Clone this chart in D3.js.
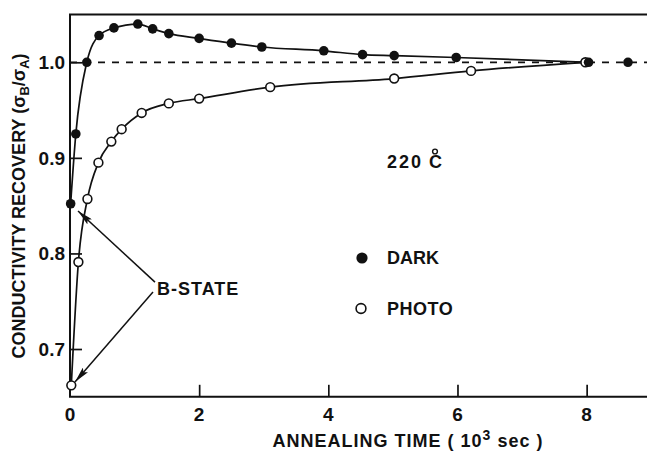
<!DOCTYPE html>
<html><head><meta charset="utf-8">
<script src="https://cdn.jsdelivr.net/npm/d3@7"></script>
<style>
html,body{margin:0;padding:0;background:#fff;}
svg{display:block;}
text{font-family:"Liberation Sans",Arial,sans-serif;font-weight:bold;fill:#111;}
</style></head>
<body>
<svg id="chart" width="647" height="452"></svg>
<script>
// ---- data (time in 10^3 sec, recovery sigma_B/sigma_A) ----
const darkTime  = [0.01, 0.09, 0.26, 0.45, 0.68, 1.05, 1.28, 1.53, 2.0, 2.5, 2.97, 3.93, 4.53, 5.02, 5.98, 8.03, 8.64];
const darkValue = [0.852, 0.925, 1.0, 1.028, 1.036, 1.040, 1.035, 1.030, 1.025, 1.020, 1.016, 1.012, 1.008, 1.007, 1.005, 1.0, 1.0];
const photoTime  = [0.02, 0.13, 0.27, 0.44, 0.64, 0.80, 1.11, 1.53, 2.0, 3.10, 5.02, 6.21, 7.98];
const photoValue = [0.662, 0.791, 0.857, 0.895, 0.917, 0.930, 0.947, 0.957, 0.962, 0.974, 0.983, 0.991, 1.0];
const xTicks = [0, 2, 4, 6, 8];
const yTicks = [0.7, 0.8, 0.9, 1.0];
const referenceLevel = 1.0;
const seriesNames = ["DARK", "PHOTO"];
const tempLabel = "220";

const svg = d3.select("#chart");
const x = d3.scaleLinear().domain([0, 9]).range([70, 70 + 9 * 64.58]);
const y = d3.scaleLinear().domain([0.65, 1.05]).range([396.8, 14.5]);

const ink = "#111";

// frame (top + left + bottom)
svg.append("path")
  .attr("d", `M${x(9)+5},${y(1.05)} L${x(0)},${y(1.05)} L${x(0)},${y(0.65)} L${x(9)+5},${y(0.65)}`)
  .attr("fill", "none").attr("stroke", ink).attr("stroke-width", 2);

// x axis ticks (inward)
const xAxis = d3.axisTop(x).tickValues(xTicks.filter(d => d > 0)).tickSize(12).tickFormat("");
svg.append("g").attr("transform", `translate(0,${y(0.65)})`).call(xAxis)
  .call(g => g.select(".domain").remove())
  .call(g => g.selectAll("line").attr("stroke", ink).attr("stroke-width", 1.7));
svg.append("g").selectAll("text").data(xTicks).join("text")
  .attr("x", d => x(d)).attr("y", 421).attr("text-anchor", "middle")
  .style("font-size", "19px").text(d => d);

// y axis ticks (inward)
const yAxis = d3.axisRight(y).tickValues(yTicks).tickSize(12).tickFormat("");
svg.append("g").attr("transform", `translate(${x(0)},0)`).call(yAxis)
  .call(g => g.select(".domain").remove())
  .call(g => g.selectAll("line").attr("stroke", ink).attr("stroke-width", 1.7));
svg.append("g").selectAll("text").data(yTicks).join("text")
  .attr("x", 65).attr("y", d => y(d) + 7).attr("text-anchor", "end")
  .style("font-size", "19px").text(d => d.toFixed(1));

// dashed reference line
svg.append("line")
  .attr("x1", x(0)).attr("x2", x(9) + 5)
  .attr("y1", y(referenceLevel)).attr("y2", y(referenceLevel))
  .attr("stroke", ink).attr("stroke-width", 1.7).attr("stroke-dasharray", "7,7");

// curves
const line = d3.line().x(d => x(d[0])).y(d => y(d[1])).curve(d3.curveMonotoneX);
const dark = darkTime.map((t, i) => [t, darkValue[i]]);
const photo = photoTime.map((t, i) => [t, photoValue[i]]);
svg.append("path").attr("d", line(dark.slice(0, 16))).attr("fill", "none").attr("stroke", ink).attr("stroke-width", 1.7);
svg.append("path").attr("d", line(photo)).attr("fill", "none").attr("stroke", ink).attr("stroke-width", 1.7);

// markers
svg.append("g").selectAll("circle").data(photo).join("circle")
  .attr("cx", d => x(d[0])).attr("cy", d => y(d[1])).attr("r", 4.4)
  .attr("fill", "#fff").attr("stroke", ink).attr("stroke-width", 1.6);
svg.append("g").selectAll("circle").data(dark).join("circle")
  .attr("cx", d => x(d[0])).attr("cy", d => y(d[1])).attr("r", 4.8)
  .attr("fill", ink);

// axis titles
svg.append("text").attr("x", 408).attr("y", 447).attr("text-anchor", "middle")
  .style("font-size", "18px").style("letter-spacing", "1px")
  .call(t => {
    t.append("tspan").text("ANNEALING  TIME ( 10");
    t.append("tspan").attr("dy", -7).style("font-size", "14px").text("3");
    t.append("tspan").attr("dy", 7).text(" sec )");
  });

svg.append("text").attr("transform", "translate(25,206) rotate(-90)").attr("text-anchor", "middle")
  .style("font-size", "18px")
  .call(t => {
    t.append("tspan").text("CONDUCTIVITY  RECOVERY (σ");
    t.append("tspan").attr("dy", 4).style("font-size", "13px").text("B");
    t.append("tspan").attr("dy", -4).text("/σ");
    t.append("tspan").attr("dy", 4).style("font-size", "13px").text("A");
    t.append("tspan").attr("dy", -4).text(")");
  });

// temperature label
svg.append("text").attr("x", 387).attr("y", 168).style("font-size", "18px").style("letter-spacing", "2px").text(tempLabel);
svg.append("text").attr("x", 429).attr("y", 168).style("font-size", "18px").text("C");
svg.append("circle").attr("cx", 435).attr("cy", 151.5).attr("r", 2.4)
  .attr("fill", "none").attr("stroke", ink).attr("stroke-width", 1.4);

// legend
svg.append("circle").attr("cx", 362).attr("cy", 258).attr("r", 5.6).attr("fill", ink);
svg.append("circle").attr("cx", 361).attr("cy", 308.5).attr("r", 4.9).attr("fill", "#fff")
  .attr("stroke", ink).attr("stroke-width", 1.6);
svg.append("text").attr("x", 387).attr("y", 264).style("font-size", "18px").text(seriesNames[0]);
svg.append("text").attr("x", 387).attr("y", 315).style("font-size", "18px").style("letter-spacing", "0.5px").text(seriesNames[1]);

// B-STATE annotation
svg.append("defs").append("marker")
  .attr("id", "arrow").attr("viewBox", "0 0 16 7").attr("refX", 16).attr("refY", 3.5)
  .attr("markerWidth", 16).attr("markerHeight", 7).attr("markerUnits", "userSpaceOnUse")
  .attr("orient", "auto")
  .append("path").attr("d", "M0,0 L16,3.5 L0,7 L3,3.5 Z").attr("fill", ink);

const arrows = [
  {from: [1.316, 0.770], to: [0.124, 0.8444]},
  {from: [1.285, 0.7596], to: [0.077, 0.6655]}
];
svg.append("g").selectAll("line").data(arrows).join("line")
  .attr("x1", d => x(d.from[0])).attr("y1", d => y(d.from[1]))
  .attr("x2", d => x(d.to[0])).attr("y2", d => y(d.to[1]))
  .attr("stroke", ink).attr("stroke-width", 1.5).attr("marker-end", "url(#arrow)");
svg.append("text").attr("x", 157).attr("y", 295).style("font-size", "18px").style("letter-spacing", "1px").text("B-STATE");
</script>
</body></html>
